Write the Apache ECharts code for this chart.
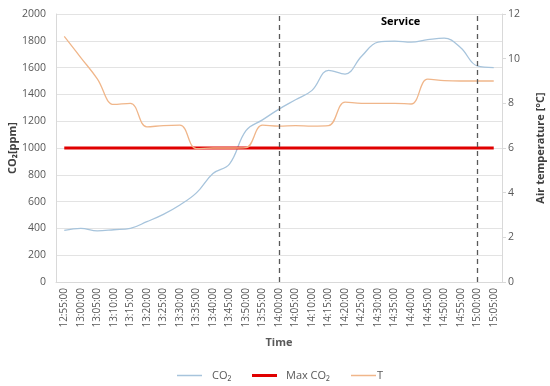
<!DOCTYPE html>
<html><head><meta charset="utf-8">
<script src="https://cdn.jsdelivr.net/npm/echarts@6/dist/echarts.min.js"></script>
<style>html,body{margin:0;padding:0;background:#fff}#c{width:550px;height:386px}</style>
</head><body><div id="c"></div>
<script>
const times = ["12:55:00","13:00:00","13:05:00","13:10:00","13:15:00","13:20:00","13:25:00","13:30:00","13:35:00","13:40:00","13:45:00","13:50:00","13:55:00","14:00:00","14:05:00","14:10:00","14:15:00","14:20:00","14:25:00","14:30:00","14:35:00","14:40:00","14:45:00","14:50:00","14:55:00","15:00:00","15:05:00"];
const co2 = [385,400,382,390,400,450,505,575,665,810,880,1130,1210,1290,1360,1430,1580,1552,1685,1790,1798,1790,1808,1820,1748,1612,1600];
const maxCo2 = [1000,1000,1000,1000,1000,1000,1000,1000,1000,1000,1000,1000,1000,1000,1000,1000,1000,1000,1000,1000,1000,1000,1000,1000,1000,1000,1000];
const temp = [11.0,10.05,9.1,7.95,8.0,6.95,7.0,7.02,5.97,6.0,6.0,6.02,7.02,6.98,7.0,6.98,7.0,8.05,8.0,8.0,8.0,7.97,9.08,9.02,9.0,9.0,9.0];
const leftTicks = {min:0,max:2000,interval:200};
const rightTicks = {min:0,max:12,interval:2};
const serviceMarks = ["14:00:00","15:00:00"];

const FONT = "'Open Sans', 'Noto Sans', sans-serif";
const C_BLUE = '#a7c4dc', C_RED = '#e00000', C_ORANGE = '#f0b68a';
const legendText = {color:'#595959',fontSize:11,fontFamily:FONT};
function lg(name, left, h, gap){
  return {data:[{name:name,icon:'rect'}],left:left,top:365,itemWidth:25,itemHeight:h,itemGap:0,
    textStyle:Object.assign({padding:[0,0,0,gap]},legendText)};
}
const chart = echarts.init(document.getElementById('c'), null, {renderer:'canvas'});
chart.setOption({
  animation:false,
  textStyle:{fontFamily:FONT},
  grid:{left:56,right:48,top:14,bottom:104,containLabel:false,outerBoundsMode:'none'},
  legend:[lg('CO₂',172,1.5,5), lg('Max CO₂',247,3,4), lg('T',346,1.5,-4)],
  graphic:[{type:'text',left:381,top:16,style:{text:'Service',font:"bold 11px "+FONT,fill:'#000'}}],
  xAxis:{
    type:'category',data:times,boundaryGap:true,
    name:'Time',nameLocation:'middle',nameGap:55,nameMoveOverlap:false,
    nameTextStyle:{fontWeight:'bold',fontSize:11,color:'#595959'},
    axisLine:{lineStyle:{color:'#d9d9d9'}},
    axisTick:{show:false},
    axisLabel:{rotate:90,interval:0,color:'#595959',fontSize:10,margin:6}
  },
  yAxis:[{
    type:'value',min:leftTicks.min,max:leftTicks.max,interval:leftTicks.interval,
    name:'CO₂[ppm]',nameLocation:'middle',nameGap:38,nameRotate:90,nameMoveOverlap:false,
    nameTextStyle:{fontWeight:'bold',fontSize:11,color:'#404040'},
    axisLine:{show:true,lineStyle:{color:'#d9d9d9'}},
    axisTick:{show:false},
    axisLabel:{color:'#595959',fontSize:10.5,margin:10,formatter:v=>String(v)},
    splitLine:{lineStyle:{color:'#e3e3e3'}}
  },{
    type:'value',min:rightTicks.min,max:rightTicks.max,interval:rightTicks.interval,position:'right',
    name:'Air temperature [°C]',nameLocation:'middle',nameGap:33,nameRotate:90,nameMoveOverlap:false,
    nameTextStyle:{fontWeight:'bold',fontSize:11,color:'#404040'},
    axisLine:{show:true,lineStyle:{color:'#d9d9d9'}},
    axisTick:{show:true,length:4,lineStyle:{color:'#d9d9d9'}},
    axisLabel:{color:'#595959',fontSize:10.5,margin:6,formatter:v=>String(v)},
    splitLine:{show:false}
  }],
  series:[{
    name:'CO₂',type:'line',data:co2,smooth:0.4,symbol:'none',yAxisIndex:0,
    lineStyle:{color:C_BLUE,width:1.3},itemStyle:{color:C_BLUE},
    markLine:{symbol:'none',silent:true,label:{show:false},
      lineStyle:{color:'#595959',type:[5,4],width:1.3},
      data:serviceMarks.map(t=>({xAxis:t}))}
  },{
    name:'Max CO₂',type:'line',data:maxCo2,symbol:'none',yAxisIndex:0,
    lineStyle:{color:C_RED,width:3},itemStyle:{color:C_RED}
  },{
    name:'T',type:'line',data:temp,smooth:0.4,symbol:'none',yAxisIndex:1,
    lineStyle:{color:C_ORANGE,width:1.3},itemStyle:{color:C_ORANGE}
  }]
});
</script></body></html>
